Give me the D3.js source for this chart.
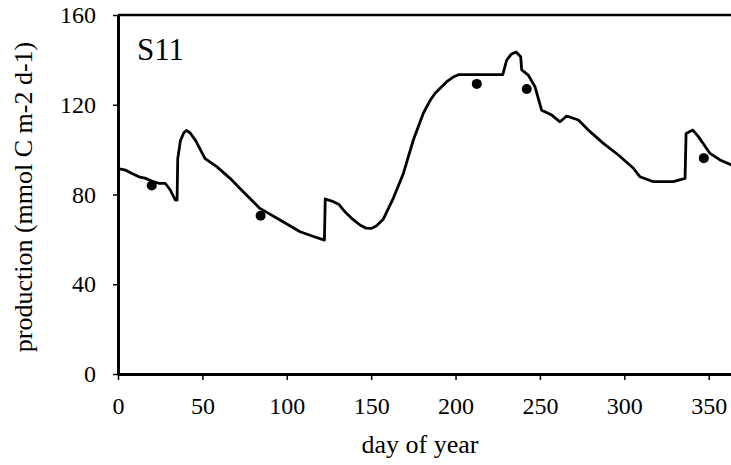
<!DOCTYPE html>
<html>
<head>
<meta charset="utf-8">
<script src="https://cdn.jsdelivr.net/npm/d3@7/dist/d3.min.js"></script>
<style>
  html, body { margin: 0; padding: 0; background: #fff; }
  svg { display: block; }
  text { font-family: "Liberation Serif", "Times New Roman", serif; fill: #000; }
</style>
</head>
<body>
<svg id="chart" width="731" height="465"></svg>
<script>
// Modelled daily production at station S11 (mmol C m-2 d-1)
const modelDay = [0, 4, 8, 13, 16, 20, 24, 28, 31, 34, 35, 35.4, 37, 39, 40.5, 42.7, 46, 51.6, 58.5, 66.4,
  72.3, 84.1, 96, 107.9, 115, 122.3, 122.8, 127.6, 131, 134.5, 139, 143.4, 147, 150.3, 153, 157.2,
  163.1, 169.1, 175, 180.9, 185, 187.9, 194.8, 199, 201.7, 228, 230.3, 233, 235.9, 238.6, 239.2,
  243.1, 247.1, 251, 257, 261.9, 265.9, 272.8, 279.7, 287.6, 296.5, 305.4, 309.3, 317.2, 329.1,
  336, 336.6, 340.6, 343.9, 350.8, 356.7, 363.7, 365];
const modelValue = [91.5, 91, 89.5, 87.7, 87.3, 86, 85, 85, 82, 77.5, 77.5, 96, 104, 107.5, 108.5, 107.5, 104, 96, 92.4, 87.2,
  82.7, 73.8, 68.6, 63.4, 61.5, 59.7, 78, 76.8, 75.5, 72.3, 69, 66.4, 65, 64.9, 66, 69,
  78.3, 89.4, 104.3, 116.2, 122, 125.1, 130.3, 132.5, 133.4, 133.4, 139.9, 142.5, 143.5, 141.4, 135.5,
  133.2, 128, 117.6, 115.4, 112.4, 115, 113.2, 108, 102.8, 97.6, 91.7, 87.9, 85.7, 85.7,
  87.2, 107.2, 108.7, 105.8, 98.3, 95.4, 93.1, 92.6];

// Measured production
const obsDay = [20, 84.5, 212.6, 242.2, 347.1];
const obsValue = [84, 70.5, 129.3, 127, 96.2];

const xTicks = [0, 50, 100, 150, 200, 250, 300, 350];
const yTicks = [0, 40, 80, 120, 160];

const svg = d3.select("#chart");
const plotLeft = 118, plotRight = 734, plotTop = 15, plotBottom = 374;

const x = d3.scaleLinear().domain([0, 365]).range([plotLeft, plotRight]);
const y = d3.scaleLinear().domain([0, 160]).range([plotBottom, plotTop]);

// frame top
svg.append("line")
  .attr("x1", plotLeft).attr("x2", plotRight)
  .attr("y1", y(160)).attr("y2", y(160))
  .attr("stroke", "#000").attr("stroke-width", 2.5);

// y axis
const gy = svg.append("g")
  .attr("transform", `translate(${plotLeft},0)`)
  .call(d3.axisLeft(y).tickValues(yTicks).tickSize(5).tickSizeOuter(0).tickPadding(17));
gy.select(".domain").attr("stroke-width", 3);
gy.selectAll(".tick line").attr("stroke-width", 1.5);
gy.selectAll(".tick text").attr("font-size", 24)
  .attr("font-family", "Liberation Serif, serif");

// x axis
const gx = svg.append("g")
  .attr("transform", `translate(0,${plotBottom})`)
  .call(d3.axisBottom(x).tickValues(xTicks).tickSize(6).tickSizeOuter(0).tickPadding(17));
gx.select(".domain").attr("stroke-width", 3);
gx.selectAll(".tick line").attr("stroke-width", 1.5);
gx.selectAll(".tick text").attr("font-size", 24)
  .attr("font-family", "Liberation Serif, serif");

// model curve
const pts = modelDay.map((d, i) => [d, modelValue[i]]);
svg.append("path")
  .datum(pts)
  .attr("fill", "none")
  .attr("stroke", "#000")
  .attr("stroke-width", 2.8)
  .attr("stroke-linejoin", "round")
  .attr("d", d3.line().x(d => x(d[0])).y(d => y(d[1])));

// observations
svg.append("g").selectAll("circle")
  .data(obsDay.map((d, i) => [d, obsValue[i]]))
  .join("circle")
  .attr("cx", d => x(d[0]))
  .attr("cy", d => y(d[1]))
  .attr("r", 5)
  .attr("fill", "#000");

// station label
svg.append("text")
  .attr("x", 137).attr("y", 60)
  .attr("font-size", 31)
  .text("S11");

// axis titles
svg.append("text")
  .attr("x", 420).attr("y", 453)
  .attr("text-anchor", "middle")
  .attr("font-size", 26)
  .text("day of year");

svg.append("text")
  .attr("transform", "translate(32,197) rotate(-90)")
  .attr("text-anchor", "middle")
  .attr("font-size", 26)
  .text("production (mmol C m-2 d-1)");
</script>
</body>
</html>
